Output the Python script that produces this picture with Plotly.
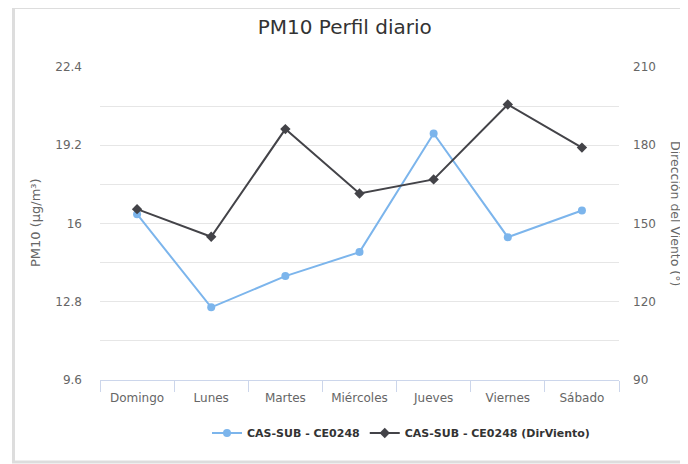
import plotly.graph_objects as go

# data
dias = ['Domingo', 'Lunes', 'Martes', 'Miércoles', 'Jueves', 'Viernes', 'Sábado']
pm10 = [16.38, 12.57, 13.85, 14.83, 19.68, 15.44, 16.53]
dir_viento = [155.5, 144.9, 186.2, 161.5, 166.9, 195.6, 179.1]

pm10_ticks = [9.6, 12.8, 16, 19.2, 22.4]
pm10_labels = ['9.6', '12.8', '16', '19.2', '22.4']
dir_ticks = [90, 120, 150, 180, 210]

FONT = 'DejaVu Sans'
GRID = '#e6e6e6'
LABEL = '#666666'

# page body adds an 8px offset, so the figure is 8px smaller than the window
OFF = 8
W, H = 688 - OFF, 464 - OFF
# plot area in window pixels: x 100..619, y 67..380
L, T = 100 - OFF, 67 - OFF
R, B = W - (619 - OFF), H - (380 - OFF)
pw, ph = W - L - R, H - T - B


def px_x(x):
    # window pixel -> paper x
    return (x - OFF - L) / pw


def px_y(y):
    # window pixel -> paper y
    return (H - B - (y - OFF)) / ph


fig = go.Figure()
fig.add_trace(go.Scatter(
    x=dias, y=pm10,
    name='CAS-SUB - CE0248',
    mode='lines+markers',
    line=dict(color='#7cb5ec', width=2),
    marker=dict(symbol='circle', size=8, color='#7cb5ec'),
))
fig.add_trace(go.Scatter(
    x=dias, y=dir_viento,
    name='CAS-SUB - CE0248 (DirViento)',
    mode='lines+markers',
    yaxis='y2',
    line=dict(color='#434348', width=2),
    marker=dict(symbol='diamond', size=8, color='#434348'),
))

# outer frame of the chart container
fig.add_shape(type='rect', xref='paper', yref='paper',
              x0=px_x(13.5), x1=px_x(700), y0=px_y(462), y1=px_y(7.5),
              line=dict(color='#dddddd', width=3), layer='below')

fig.update_layout(
    width=W, height=H,
    margin=dict(l=L, r=R, t=T, b=B),
    paper_bgcolor='white',
    plot_bgcolor='white',
    font=dict(family=FONT, color=LABEL, size=12),
    title=dict(text='PM10 Perfil diario', x=px_x(357), xanchor='center',
               y=1 - (27 - OFF) / H, yanchor='middle',
               font=dict(family=FONT, size=20, color='#333333')),
    xaxis=dict(
        type='category', range=[-0.5, 6.5],
        showline=True, linecolor='#ccd6eb', linewidth=1,
        ticks='outside', tickson='boundaries', ticklen=11, tickcolor='#ccd6eb',
        showgrid=False, zeroline=False,
        ticklabelstandoff=7,
        tickfont=dict(size=12, color=LABEL),
    ),
    yaxis=dict(
        range=[9.6, 22.4],
        tickvals=pm10_ticks, ticktext=pm10_labels,
        showgrid=True, gridcolor=GRID, gridwidth=1,
        minor=dict(tickvals=[11.2, 14.4, 17.6, 20.8], showgrid=True,
                   gridcolor=GRID, gridwidth=1),
        zeroline=False, showline=False,
        ticklabelstandoff=17,
        tickfont=dict(size=12, color=LABEL),
    ),
    yaxis2=dict(
        range=[90, 210], tickvals=dir_ticks,
        overlaying='y', side='right',
        showgrid=False, zeroline=False, showline=False,
        ticklabelstandoff=13,
        tickfont=dict(size=12, color=LABEL),
    ),
    legend=dict(
        orientation='h', x=px_x(401), xanchor='center',
        y=px_y(433), yanchor='middle',
        font=dict(family=FONT, size=11, color='#333333', weight='bold'),
        itemwidth=30, bgcolor='rgba(0,0,0,0)',
    ),
    annotations=[
        dict(text='PM10 (µg/m³)', xref='paper', yref='paper',
             x=px_x(35), y=px_y(223), xanchor='center', yanchor='middle',
             textangle=-90, showarrow=False,
             font=dict(family=FONT, size=13, color=LABEL)),
        dict(text='Dirección del Viento (°)', xref='paper', yref='paper',
             x=px_x(676), y=px_y(214), xanchor='center', yanchor='middle',
             textangle=90, showarrow=False,
             font=dict(family=FONT, size=12.5, color=LABEL)),
    ],
)

fig.write_html('out.html')
